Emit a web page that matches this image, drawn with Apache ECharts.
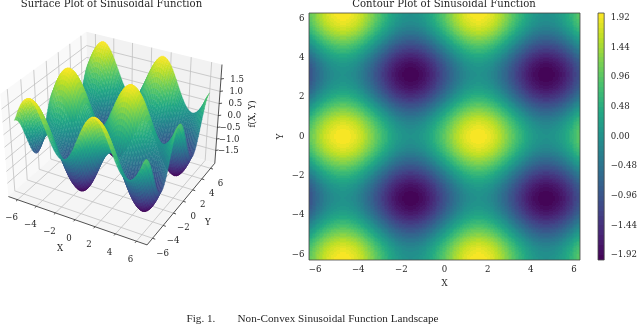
<!DOCTYPE html>
<html>
<head>
<meta charset="utf-8">
<title>Non-Convex Sinusoidal Function Landscape</title>
<script src="https://cdn.jsdelivr.net/npm/echarts@6/dist/echarts.min.js"></script>
<style>
  html, body { margin: 0; padding: 0; background: #fff; }
  #chart { width: 640px; height: 326px; filter: blur(0.35px); }
</style>
</head>
<body>
<div id="chart"></div>
<script>
// values, grid nodes of the landscape
const xNodes = [-6.28,-5.89,-5.5,-5.11,-4.71,-4.32,-3.93,-3.53,-3.14,-2.75,-2.36,-1.96,-1.57,-1.18,-0.79,-0.39,0,0.39,0.79,1.18,1.57,1.96,2.36,2.75,3.14,3.53,3.93,4.32,4.71,5.11,5.5,5.89,6.28];
const yNodes = xNodes;

// the rows repeat in the picture, so each different row is kept once
const rowA = [1,1.38,1.71,1.92,2,1.92,1.71,1.38,1,0.62,0.29,0.08,0,0.08,0.29,0.62,1,1.38,1.71,1.92,2,1.92,1.71,1.38,1,0.62,0.29,0.08,0,0.08,0.29,0.62,1];
const rowB = [0.92,1.3,1.63,1.84,1.92,1.84,1.63,1.3,0.92,0.54,0.21,0,-0.08,0,0.21,0.54,0.92,1.3,1.63,1.84,1.92,1.84,1.63,1.3,0.92,0.54,0.21,0,-0.08,0,0.21,0.54,0.92];
const rowC = [0.71,1.09,1.42,1.63,1.71,1.63,1.42,1.09,0.71,0.33,0,-0.21,-0.29,-0.21,0,0.33,0.71,1.09,1.42,1.63,1.71,1.63,1.42,1.09,0.71,0.33,0,-0.21,-0.29,-0.21,0,0.33,0.71];
const rowD = [0.38,0.76,1.09,1.3,1.38,1.3,1.09,0.76,0.38,0,-0.33,-0.54,-0.62,-0.54,-0.33,0,0.38,0.76,1.09,1.3,1.38,1.3,1.09,0.76,0.38,0,-0.33,-0.54,-0.62,-0.54,-0.33,0,0.38];
const rowE = [0,0.38,0.71,0.92,1,0.92,0.71,0.38,0,-0.38,-0.71,-0.92,-1,-0.92,-0.71,-0.38,0,0.38,0.71,0.92,1,0.92,0.71,0.38,0,-0.38,-0.71,-0.92,-1,-0.92,-0.71,-0.38,0];
const rowF = [-0.38,0,0.33,0.54,0.62,0.54,0.33,0,-0.38,-0.76,-1.09,-1.3,-1.38,-1.3,-1.09,-0.76,-0.38,0,0.33,0.54,0.62,0.54,0.33,0,-0.38,-0.76,-1.09,-1.3,-1.38,-1.3,-1.09,-0.76,-0.38];
const rowG = [-0.71,-0.33,0,0.21,0.29,0.21,0,-0.33,-0.71,-1.09,-1.42,-1.63,-1.71,-1.63,-1.42,-1.09,-0.71,-0.33,0,0.21,0.29,0.21,0,-0.33,-0.71,-1.09,-1.42,-1.63,-1.71,-1.63,-1.42,-1.09,-0.71];
const rowH = [-0.92,-0.54,-0.21,0,0.08,0,-0.21,-0.54,-0.92,-1.3,-1.63,-1.84,-1.92,-1.84,-1.63,-1.3,-0.92,-0.54,-0.21,0,0.08,0,-0.21,-0.54,-0.92,-1.3,-1.63,-1.84,-1.92,-1.84,-1.63,-1.3,-0.92];
const rowI = [-1,-0.62,-0.29,-0.08,0,-0.08,-0.29,-0.62,-1,-1.38,-1.71,-1.92,-2,-1.92,-1.71,-1.38,-1,-0.62,-0.29,-0.08,0,-0.08,-0.29,-0.62,-1,-1.38,-1.71,-1.92,-2,-1.92,-1.71,-1.38,-1];
const zRows = [rowA,rowB,rowC,rowD,rowE,rowF,rowG,rowH,rowI,rowH,rowG,rowF,rowE,rowD,rowC,rowB,rowA,rowB,rowC,rowD,rowE,rowF,rowG,rowH,rowI,rowH,rowG,rowF,rowE,rowD,rowC,rowB,rowA];

const axisTicks = [-6,-4,-2,0,2,4,6];
const zTicks = [-1.5,-1,-0.5,0,0.5,1,1.5];
const barTicks = [-1.92,-1.44,-0.96,-0.48,0,0.48,0.96,1.44,1.92];
const viridis = ['#440154','#482475','#414487','#355f8d','#2a788e','#21918c','#22a884','#44bf70','#7ad151','#bddf26','#fde725'];

const XY_LIM = 6.283, BOX_LIM = 7, Z_LIM = 2.07;
const ELEV = 31.5 * Math.PI / 180, AZIM = -60.8 * Math.PI / 180, DIST = 5.5;
const SERIF = '"DejaVu Serif", serif';
const TIMES = '"Liberation Serif", serif';
const INK = '#262626';
const TICK_SIZE = 8.6;

function viridisColor(t) {
  t = Math.max(0, Math.min(1, t)) * (viridis.length - 1);
  const k = Math.min(viridis.length - 2, Math.floor(t));
  const a = echarts.color.parse(viridis[k]), b = echarts.color.parse(viridis[k + 1]);
  const f = t - k;
  return 'rgb(' + [0, 1, 2].map(n => Math.round(a[n] + (b[n] - a[n]) * f)).join(',') + ')';
}
function zColor(z) { return viridisColor((z + 2) / 4); }
function minusText(v, digits) {
  const s = digits ? Math.abs(v).toFixed(digits) : String(Math.abs(v));
  return (v < 0 ? '\u2212' : '') + s;
}
// smooth reading between the grid nodes, for drawing only
function catmull(a, b, c, d, t) {
  return b + 0.5 * t * (c - a + t * (2 * a - 5 * b + 4 * c - d + t * (3 * (b - c) + d - a)));
}
function zAt(i, j, u, v) {
  const last = zRows.length - 1;
  const rows = [-1, 0, 1, 2].map(di => {
    const r = zRows[Math.max(0, Math.min(last, i + di))];
    const at = dj => r[Math.max(0, Math.min(last, j + dj))];
    return catmull(at(-1), at(0), at(1), at(2), u);
  });
  return catmull(rows[0], rows[1], rows[2], rows[3], v);
}

// [A] camera of the 3D box, same idea as mplot3d
const eye = [Math.cos(ELEV) * Math.cos(AZIM), Math.cos(ELEV) * Math.sin(AZIM), Math.sin(ELEV)];
const camU = [-eye[1], eye[0], 0].map(v => v / Math.hypot(eye[0], eye[1]));
const camV = [eye[1] * camU[2] - eye[2] * camU[1], eye[2] * camU[0] - eye[0] * camU[2], eye[0] * camU[1] - eye[1] * camU[0]];
function project(x, y, z) {
  const p = [x / (2 * BOX_LIM), y / (2 * BOX_LIM), z / Z_LIM * 0.375];
  const dot = a => a[0] * p[0] + a[1] * p[1] + a[2] * p[2];
  const depth = DIST - dot(eye);
  return [dot(camU) * DIST / depth, dot(camV) * DIST / depth, depth];
}

// [B] surface facets, far ones first
const facets = [];
const FACET_SPLIT = 2;
for (let i = 0; i < yNodes.length - 1; i++) {
  for (let j = 0; j < xNodes.length - 1; j++) {
    for (let a = 0; a < FACET_SPLIT; a++) {
      for (let b = 0; b < FACET_SPLIT; b++) {
        const corner = (m, n) => {
          const u = (b + m) / FACET_SPLIT, v = (a + n) / FACET_SPLIT;
          return project(xNodes[j] + (xNodes[j + 1] - xNodes[j]) * u, yNodes[i] + (yNodes[i + 1] - yNodes[i]) * v, zAt(i, j, u, v));
        };
        const pts = [corner(0, 0), corner(1, 0), corner(1, 1), corner(0, 1)];
        facets.push({ pts: pts, z: zAt(i, j, (b + 0.5) / FACET_SPLIT, (a + 0.5) / FACET_SPLIT), depth: (pts[0][2] + pts[1][2] + pts[2][2] + pts[3][2]) / 4 });
      }
    }
  }
}
facets.sort((p, q) => q.depth - p.depth);

// [C] box around the surface: walls, grid lines, axes, ticks
const boxItems = [];
function wall(a, b, c, d, fill) { boxItems.push({ pts: [a, b, c, d], fill: fill }); }
function seg(a, b, color, width) { boxItems.push({ pts: [a, b], line: color, width: width }); }
const L = BOX_LIM, Z = Z_LIM;
wall([-L,-L,-Z], [-L,L,-Z], [-L,L,Z], [-L,-L,Z], '#f9f9f9');
wall([-L,L,-Z], [L,L,-Z], [L,L,Z], [-L,L,Z], '#f2f2f2');
wall([-L,-L,-Z], [L,-L,-Z], [L,L,-Z], [-L,L,-Z], '#f5f5f5');
const GRID_COLOR = '#c0c0c0';
axisTicks.forEach(t => {
  seg([t,-L,-Z], [t,L,-Z], GRID_COLOR, 0.8);
  seg([t,L,-Z], [t,L,Z], GRID_COLOR, 0.8);
  seg([-L,t,-Z], [L,t,-Z], GRID_COLOR, 0.8);
  seg([-L,t,-Z], [-L,t,Z], GRID_COLOR, 0.8);
});
zTicks.forEach(t => {
  seg([-L,-L,t], [-L,L,t], GRID_COLOR, 0.8);
  seg([-L,L,t], [L,L,t], GRID_COLOR, 0.8);
});
seg([-L,-L,-Z], [L,-L,-Z], INK, 0.8);
seg([L,-L,-Z], [L,L,-Z], INK, 0.8);
seg([L,L,-Z], [L,L,Z], INK, 0.8);
axisTicks.forEach(t => {
  seg([t,-L,-Z], [t,-L - 0.25,-Z], INK, 0.8);
  seg([L,t,-Z], [L + 0.25,t,-Z], INK, 0.8);
});
zTicks.forEach(t => seg([L,L,t], [L + 0.2,L + 0.2,t], INK, 0.8));

// [D] texts of the box, anchored on a world point then shifted in pixels
const boxTexts = [];
axisTicks.forEach(t => {
  boxTexts.push({ at: [t,-L,-Z], text: minusText(t), align: 'center', dx: -6, dy: 18.5 });
  boxTexts.push({ at: [L,t,-Z], text: minusText(t), align: 'center', dx: 10, dy: 15 });
});
zTicks.forEach(t => boxTexts.push({ at: [L,L,t], text: minusText(t, 1), align: 'right', dx: 23, dy: 0.5 }));
boxTexts.push({ at: [0,-L,-Z], text: 'X', align: 'center', dx: -15, dy: 29 });
boxTexts.push({ at: [L,0,-Z], text: 'Y', align: 'center', dx: 24.5, dy: 21 });

const chart = echarts.init(document.getElementById('chart'), null, { renderer: 'canvas' });

function renderBox(params, api) {
  const item = boxItems[params.dataIndex];
  const pts = item.pts.map(p => { const s = project(p[0], p[1], p[2]); return api.coord([s[0], s[1]]); });
  if (item.fill) return { type: 'polygon', shape: { points: pts }, style: { fill: item.fill }, silent: true };
  return { type: 'line', shape: { x1: pts[0][0], y1: pts[0][1], x2: pts[1][0], y2: pts[1][1] }, style: { stroke: item.line, lineWidth: item.width }, silent: true };
}
function renderFacet(params, api) {
  const item = facets[params.dataIndex];
  const color = zColor(item.z);
  return { type: 'polygon', shape: { points: item.pts.map(p => api.coord([p[0], p[1]])) }, style: { fill: color, stroke: color, lineWidth: 0.4 }, silent: true };
}
function renderBoxText(params, api) {
  const item = boxTexts[params.dataIndex];
  const s = project(item.at[0], item.at[1], item.at[2]);
  const c = api.coord([s[0], s[1]]);
  return { type: 'text', x: c[0] + item.dx, y: c[1] + item.dy, style: { text: item.text, fill: INK, font: TICK_SIZE + 'px ' + SERIF, textAlign: item.align, textVerticalAlign: 'middle' }, silent: true };
}

// [E] filled contour cells, colour steps every 0.08, rects snapped to whole pixels
const LEVEL_STEP = 0.08, CELL_SPLIT = 6;
function bandColor(z) {
  const band = Math.max(0, Math.min(49, Math.floor((z + 2) / LEVEL_STEP)));
  return zColor(-2 + (band + 0.5) * LEVEL_STEP);
}
const contourCells = [];
for (let i = 0; i < yNodes.length - 1; i++) {
  for (let j = 0; j < xNodes.length - 1; j++) contourCells.push([i, j]);
}
function renderCell(params, api) {
  const cell = contourCells[params.dataIndex], i = cell[0], j = cell[1];
  const p0 = api.coord([xNodes[j], yNodes[i]]), p1 = api.coord([xNodes[j + 1], yNodes[i + 1]]);
  const w = (p1[0] - p0[0]) / CELL_SPLIT, h = (p1[1] - p0[1]) / CELL_SPLIT;
  const children = [];
  for (let a = 0; a < CELL_SPLIT; a++) {
    const yA = Math.round(p0[1] + a * h), yB = Math.round(p0[1] + (a + 1) * h);
    if (yA === yB) continue;
    for (let b = 0; b < CELL_SPLIT; b++) {
      const xA = Math.round(p0[0] + b * w), xB = Math.round(p0[0] + (b + 1) * w);
      if (xA === xB) continue;
      const z = zAt(i, j, (b + 0.5) / CELL_SPLIT, (a + 0.5) / CELL_SPLIT);
      children.push({ type: 'rect', shape: { x: xA, y: yB, width: xB - xA, height: yA - yB }, style: { fill: bandColor(z) }, silent: true });
    }
  }
  return { type: 'group', children: children };
}

// [F] colour bar, one rect per level
const barLevels = [];
for (let k = 0; k < 50; k++) barLevels.push(+(-2 + k * LEVEL_STEP).toFixed(2));
function renderBarLevel(params, api) {
  const low = api.value(0);
  const p0 = api.coord([0, low]), p1 = api.coord([1, low + LEVEL_STEP]);
  const top = Math.round(p1[1]), bottom = Math.round(p0[1]);
  return { type: 'rect', shape: { x: p0[0], y: top, width: p1[0] - p0[0], height: bottom - top }, style: { fill: bandColor(low + LEVEL_STEP / 2) }, silent: true };
}

const tickLabel = { color: INK, fontFamily: SERIF, fontSize: TICK_SIZE };
const titleFont = { fontFamily: SERIF, fontWeight: 'normal', fontSize: 10.1, color: INK };
const captionFont = { fontFamily: TIMES, fontWeight: 'normal', fontSize: 11.2, color: INK };

chart.setOption({
  animation: false,
  backgroundColor: '#fff',
  title: [
    { text: 'Surface Plot of Sinusoidal Function', left: 111.5, top: -1, padding: 0, textAlign: 'center', textStyle: titleFont },
    { text: 'Contour Plot of Sinusoidal Function', left: 444, top: -1, padding: 0, textAlign: 'center', textStyle: titleFont },
    { text: 'Fig. 1.', left: 186.5, top: 314, padding: 0, textStyle: captionFont },
    { text: 'Non-Convex Sinusoidal Function Landscape', left: 237.5, top: 314, padding: 0, textStyle: captionFont }
  ],
  grid: [
    { left: 0, top: 0, width: 240, height: 300 },
    { left: 309, top: 13, width: 271, height: 247, show: true, borderColor: '#444', borderWidth: 0.8, backgroundColor: 'transparent', z: 5 },
    { left: 598, top: 13, width: 12, height: 247, show: true, borderColor: '#444', borderWidth: 0.8, backgroundColor: 'transparent', z: 5 }
  ],
  xAxis: [
    { gridIndex: 0, type: 'value', min: -0.73, max: 0.799, show: false },
    { gridIndex: 1, type: 'value', min: -XY_LIM, max: XY_LIM, name: 'X', nameLocation: 'center', nameGap: 19, nameTextStyle: { color: INK, fontFamily: SERIF, fontSize: TICK_SIZE },
      axisLine: { show: false }, splitLine: { show: false },
      axisTick: { length: 3, customValues: axisTicks, lineStyle: { color: INK, width: 0.8 } },
      axisLabel: Object.assign({ customValues: axisTicks, formatter: v => minusText(v), margin: 5 }, tickLabel) },
    { gridIndex: 2, type: 'value', min: 0, max: 1, show: false }
  ],
  yAxis: [
    { gridIndex: 0, type: 'value', min: -1.077, max: 0.834, show: false },
    { gridIndex: 1, type: 'value', min: -XY_LIM, max: XY_LIM, name: 'Y', nameLocation: 'center', nameGap: 24, nameRotate: 90, nameTextStyle: { color: INK, fontFamily: SERIF, fontSize: TICK_SIZE },
      axisLine: { show: false }, splitLine: { show: false },
      axisTick: { length: 3, customValues: axisTicks, lineStyle: { color: INK, width: 0.8 } },
      axisLabel: Object.assign({ customValues: axisTicks, formatter: v => minusText(v), margin: 4.5 }, tickLabel) },
    { gridIndex: 2, type: 'value', position: 'right', min: -2, max: 2,
      axisLine: { show: false }, splitLine: { show: false },
      axisTick: { length: 3, customValues: barTicks, lineStyle: { color: INK, width: 0.8 } },
      axisLabel: Object.assign({ customValues: barTicks, formatter: v => minusText(v, 2), margin: 6.5 }, tickLabel) }
  ],
  series: [
    { type: 'custom', xAxisIndex: 0, yAxisIndex: 0, coordinateSystem: 'cartesian2d', data: boxItems.map((d, n) => [n]), renderItem: renderBox, encode: { x: 0, y: 0 }, z: 1, progressive: 0, clip: false },
    { type: 'custom', xAxisIndex: 0, yAxisIndex: 0, coordinateSystem: 'cartesian2d', data: facets.map((d, n) => [n]), renderItem: renderFacet, encode: { x: 0, y: 0 }, z: 2, progressive: 0, clip: false },
    { type: 'custom', xAxisIndex: 0, yAxisIndex: 0, coordinateSystem: 'cartesian2d', data: boxTexts.map((d, n) => [n]), renderItem: renderBoxText, encode: { x: 0, y: 0 }, z: 3, progressive: 0, clip: false },
    { type: 'custom', xAxisIndex: 1, yAxisIndex: 1, coordinateSystem: 'cartesian2d', data: contourCells.map((d, n) => [n]), renderItem: renderCell, encode: { x: 0, y: 0 }, z: 2, progressive: 0, clip: true },
    { type: 'custom', xAxisIndex: 2, yAxisIndex: 2, coordinateSystem: 'cartesian2d', data: barLevels.map(v => [v]), renderItem: renderBarLevel, encode: { y: 0 }, z: 2, progressive: 0, clip: true }
  ],
  graphic: [
    { type: 'text', x: 253, y: 114, rotation: Math.PI / 2, style: { text: 'f(X, Y)', fill: INK, font: TICK_SIZE + 'px ' + SERIF, textAlign: 'center', textVerticalAlign: 'middle' }, silent: true }
  ]
});
</script>
</body>
</html>
